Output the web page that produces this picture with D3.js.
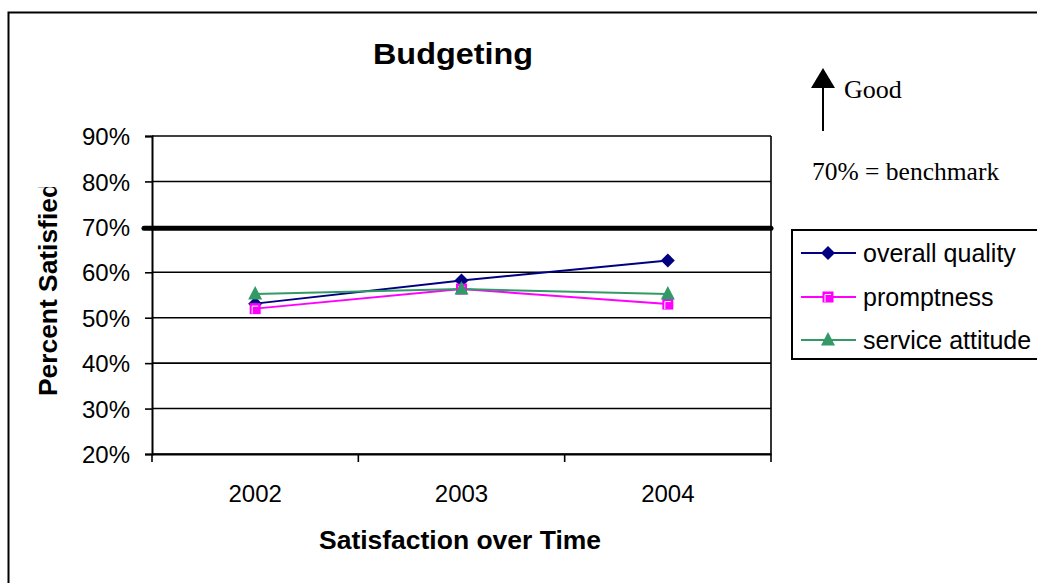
<!DOCTYPE html>
<html><head><meta charset="utf-8">
<script src="https://cdn.jsdelivr.net/npm/d3@7/dist/d3.min.js"></script>
<style>body{margin:0;background:#fff}svg{display:block}</style>
</head><body>
<script>
const years = ["2002", "2003", "2004"];
const overallQuality = [53.1, 58.2, 62.6];
const promptness = [52.0, 56.3, 53.0];
const serviceAttitude = [55.2, 56.3, 55.2];
const yTicks = [20, 30, 40, 50, 60, 70, 80, 90];
const benchmark = 70;
const seriesNames = ["overall quality", "promptness", "service attitude"];

const W = 1037, H = 583;
const SANS = "Liberation Sans, Arial, sans-serif";
const SERIF = "Liberation Serif, Times New Roman, serif";
const svg = d3.select("body").append("svg").attr("width", W).attr("height", H);

// outer border
svg.append("rect").attr("x", 8.5).attr("y", 12.5).attr("width", 1100).attr("height", 700)
  .attr("fill", "#fff").attr("stroke", "#000").attr("stroke-width", 2);

const L = 152, R = 771, T = 136, B = 454;
const x = d3.scaleBand().domain(years).range([L, R]);
const y = d3.scaleLinear().domain([20, 90]).range([B, T]);

// gridlines
svg.append("g").selectAll("line").data(yTicks.filter(d => d !== benchmark)).join("line")
  .attr("x1", L).attr("x2", R).attr("y1", d => y(d)).attr("y2", d => y(d))
  .attr("stroke", "#000").attr("stroke-width", 1.6);
// right border
svg.append("line").attr("x1", R).attr("x2", R).attr("y1", T).attr("y2", B).attr("stroke", "#000").attr("stroke-width", 1.6);

// y axis
const yAxis = svg.append("g").attr("transform", `translate(${L},0)`)
  .call(d3.axisLeft(y).tickValues(yTicks).tickSize(7).tickFormat(d => d + "%"));
yAxis.select(".domain").attr("stroke-width", 2);
yAxis.selectAll(".tick line").attr("stroke-width", 1.6);
yAxis.selectAll("text").attr("font-family", SANS).attr("font-size", 24).attr("fill", "#000").attr("x", -22).attr("dy", "0.36em");

// x axis
const xAxis = svg.append("g").attr("transform", `translate(0,${B})`)
  .call(d3.axisBottom(x).tickSize(0).tickPadding(31));
xAxis.select(".domain").attr("stroke-width", 2);
xAxis.selectAll("text").attr("font-family", SANS).attr("font-size", 24).attr("fill", "#000");
// category boundary ticks
const bounds = years.map(d => x(d)).concat([x(years[years.length - 1]) + x.bandwidth()]);
svg.append("g").selectAll("line").data(bounds).join("line")
  .attr("x1", d => d).attr("x2", d => d)
  .attr("y1", B).attr("y2", B + 8).attr("stroke", "#000").attr("stroke-width", 1.6);

// benchmark thick line
svg.append("line").attr("x1", L - 8).attr("x2", R).attr("y1", y(benchmark) + 1.5).attr("y2", y(benchmark) + 1.5)
  .attr("stroke", "#000").attr("stroke-width", 5).attr("stroke-linecap", "round");

const cx = d => x(d) + x.bandwidth() / 2;
const diamond = "M0,-7L7,0L0,7L-7,0Z";
const square = "M-5.5,-5.5H5.5V5.5H-5.5Z";
const triangle = "M0,-8L7,5.5H-7Z";
const series = [
  { name: seriesNames[0], values: overallQuality, color: "#000080", sym: diamond },
  { name: seriesNames[1], values: promptness, color: "#FF00FF", sym: square },
  { name: seriesNames[2], values: serviceAttitude, color: "#339966", sym: triangle }
];
const line = d3.line().x((d, i) => cx(years[i])).y(d => y(d));
series.forEach(s => {
  svg.append("path").datum(s.values).attr("d", line).attr("fill", "none")
    .attr("stroke", s.color).attr("stroke-width", 2);
});
series.forEach(s => {
  svg.append("g").selectAll("path").data(s.values).join("path")
    .attr("transform", (d, i) => `translate(${cx(years[i])},${y(d)})`)
    .attr("d", s.sym).attr("fill", s.color);
  if (s.sym === square) {
    svg.append("g").selectAll("path").data(s.values).join("path")
      .attr("transform", (d, i) => `translate(${cx(years[i])},${y(d)})`)
      .attr("d", "M-3,5V-2.5H3").attr("fill", "none").attr("stroke", "#fff").attr("stroke-width", 1);
  }
});

// title
svg.append("text").attr("x", 453).attr("y", 64).attr("text-anchor", "middle")
  .attr("font-family", SANS).attr("font-weight", "bold").attr("font-size", 29)
  .attr("textLength", 160).attr("lengthAdjust", "spacingAndGlyphs").text("Budgeting");

// axis titles
svg.append("text").attr("x", 460).attr("y", 549).attr("text-anchor", "middle")
  .attr("font-family", SANS).attr("font-weight", "bold").attr("font-size", 26)
  .attr("textLength", 282).attr("lengthAdjust", "spacingAndGlyphs").text("Satisfaction over Time");
svg.append("clipPath").attr("id", "yclip").append("rect").attr("x", 0).attr("y", 187).attr("width", 100).attr("height", 300);
svg.append("g").attr("clip-path", "url(#yclip)").append("text")
  .attr("transform", "translate(57,396) rotate(-90)").attr("text-anchor", "start")
  .attr("font-family", SANS).attr("font-weight", "bold").attr("font-size", 26)
  .attr("textLength", 214).attr("lengthAdjust", "spacingAndGlyphs").text("Percent Satisfied");

// Good arrow
svg.append("line").attr("x1", 823).attr("x2", 823).attr("y1", 131).attr("y2", 86).attr("stroke", "#000").attr("stroke-width", 2);
svg.append("path").attr("d", "M823,68L835,88L811,88Z").attr("fill", "#000");
svg.append("text").attr("x", 844).attr("y", 98).attr("font-family", SERIF).attr("font-size", 26).text("Good");
svg.append("text").attr("x", 812).attr("y", 180).attr("font-family", SERIF).attr("font-size", 25.5).text("70% = benchmark");

// legend
svg.append("rect").attr("x", 792).attr("y", 230).attr("width", 300).attr("height", 129)
  .attr("fill", "#fff").attr("stroke", "#000").attr("stroke-width", 2);
const legY = [253, 297, 340];
series.forEach((s, i) => {
  const g = svg.append("g").attr("transform", `translate(0,${legY[i]})`);
  g.append("line").attr("x1", 801).attr("x2", 856).attr("y1", 0).attr("y2", 0).attr("stroke", s.color).attr("stroke-width", 2);
  g.append("path").attr("transform", "translate(828,0)").attr("d", s.sym).attr("fill", s.color);
  if (s.sym === square) g.append("path").attr("transform", "translate(828,0)").attr("d", "M-3,5V-2.5H3").attr("fill", "none").attr("stroke", "#fff");
  g.append("text").attr("x", 863).attr("y", 0).attr("dy", "0.35em")
    .attr("font-family", SANS).attr("font-size", 25).text(s.name);
});
</script>
</body></html>
